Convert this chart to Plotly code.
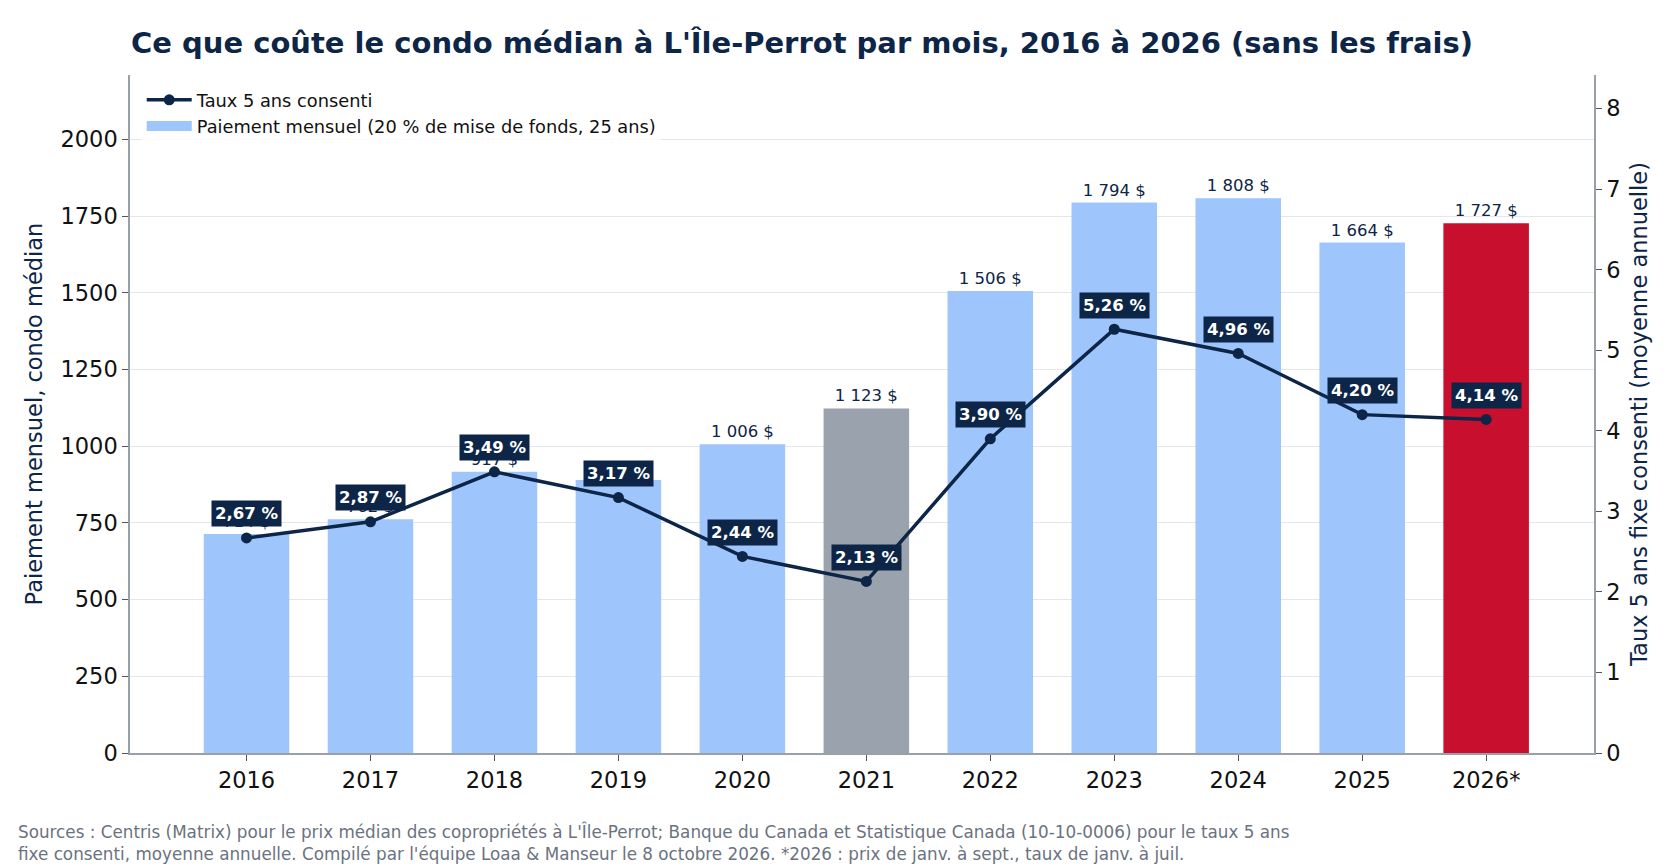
import plotly.graph_objects as go

years = ["2016", "2017", "2018", "2019", "2020", "2021", "2022", "2023", "2024", "2025", "2026*"]
payments = [714, 762, 917, 890, 1006, 1123, 1506, 1794, 1808, 1664, 1727]
rates = [2.67, 2.87, 3.49, 3.17, 2.44, 2.13, 3.90, 5.26, 4.96, 4.20, 4.14]
bar_colors = ["#9fc5fd"] * 5 + ["#9aa2ad"] + ["#9fc5fd"] * 4 + ["#c8102e"]

NAVY = "#0d2547"
LIGHT = "#9fc5fd"
FONT = "DejaVu Sans"


def fr_money(v):
    return f"{v:,}".replace(",", " ") + " $"


def fr_pct(v):
    return f"{v:.2f}".replace(".", ",") + " %"


fig = go.Figure()
fig.add_trace(go.Bar(
    x=years, y=payments, marker=dict(color=bar_colors, line=dict(width=0)),
    name="Paiement mensuel (20 % de mise de fonds, 25 ans)", showlegend=False,
    text=[fr_money(v) for v in payments], textposition="outside",
    textfont=dict(family=FONT, size=16.5, color=NAVY),
    cliponaxis=False, yaxis="y",
))
fig.add_trace(go.Scatter(
    x=years, y=rates, mode="lines+markers", name="Taux 5 ans consenti",
    line=dict(color=NAVY, width=3.5), marker=dict(size=11, color=NAVY),
    yaxis="y2", legendrank=1,
))
# legend swatch for the bars (wide rectangle like the reference)
fig.add_trace(go.Scatter(
    x=[None], y=[None], mode="lines", name="Paiement mensuel (20 % de mise de fonds, 25 ans)",
    line=dict(color=LIGHT, width=13), yaxis="y", legendrank=2,
))

# rate labels; x given as category index so numeric-looking names are not misread
for i, r in enumerate(rates):
    fig.add_annotation(
        x=i, y=r, xref="x", yref="y2", text="<b>" + fr_pct(r) + "</b>",
        showarrow=False, yshift=24, bgcolor=NAVY, borderpad=3,
        font=dict(family=FONT, size=16.5, color="white"),
    )

fig.add_annotation(
    xref="paper", yref="paper", x=-0.078, y=-0.097, xanchor="left", yanchor="top",
    align="left", showarrow=False,
    text=("Sources : Centris (Matrix) pour le prix médian des copropriétés à L'Île-Perrot; Banque du Canada et Statistique Canada (10-10-0006) pour le taux 5 ans<br>"
          "fixe consenti, moyenne annuelle. Compilé par l'équipe Loaa &amp; Manseur le 8 octobre 2026. *2026 : prix de janv. à sept., taux de janv. à juil."),
    font=dict(family=FONT, size=16.8, color="#6b7280"),
)

fig.update_layout(
    width=1680, height=868,
    margin=dict(l=130, r=86, t=75, b=115),
    paper_bgcolor="white", plot_bgcolor="white",
    font=dict(family=FONT, color="#111111"),
    title=dict(text="<b>Ce que coûte le condo médian à L'Île-Perrot par mois, 2016 à 2026 (sans les frais)</b>",
               x=131 / 1680, xanchor="left", y=1 - 43 / 868, yanchor="middle",
               font=dict(family=FONT, size=29, color=NAVY)),
    bargap=0.31,
    showlegend=True,
    legend=dict(x=0.008, y=0.99, xanchor="left", yanchor="top", traceorder="normal",
                itemwidth=45, bgcolor="rgba(255,255,255,0.8)",
                font=dict(family=FONT, size=17.8, color="#111111")),
    xaxis=dict(type="category", range=[-0.94, 10.87], showline=True, linecolor="#9aa0a8", linewidth=1.5,
               ticks="outside", ticklen=6, tickcolor="#555", tickfont=dict(size=22.5, color="#111"),
               showgrid=False),
    yaxis=dict(range=[0, 2210], tickvals=[0, 250, 500, 750, 1000, 1250, 1500, 1750, 2000],
               showline=True, linecolor="#9aa0a8", linewidth=1.5, ticks="outside", ticklen=6,
               tickcolor="#555", tickfont=dict(size=22.5, color="#111"),
               showgrid=True, gridcolor="#e3e6ea", gridwidth=1.2, zeroline=False,
               title=dict(text="Paiement mensuel, condo médian", standoff=12,
                          font=dict(family=FONT, size=22.5, color=NAVY))),
    yaxis2=dict(range=[0, 8.416], tickvals=list(range(0, 9)), overlaying="y", side="right",
                showline=True, linecolor="#9aa0a8", linewidth=1.5, ticks="outside", ticklen=6,
                tickcolor="#555", tickfont=dict(size=22.5, color="#111"), showgrid=False, zeroline=False,
                title=dict(text="Taux 5 ans fixe consenti (moyenne annuelle)", standoff=12,
                           font=dict(family=FONT, size=22.5, color=NAVY))),
)

fig.write_html("out.html")
